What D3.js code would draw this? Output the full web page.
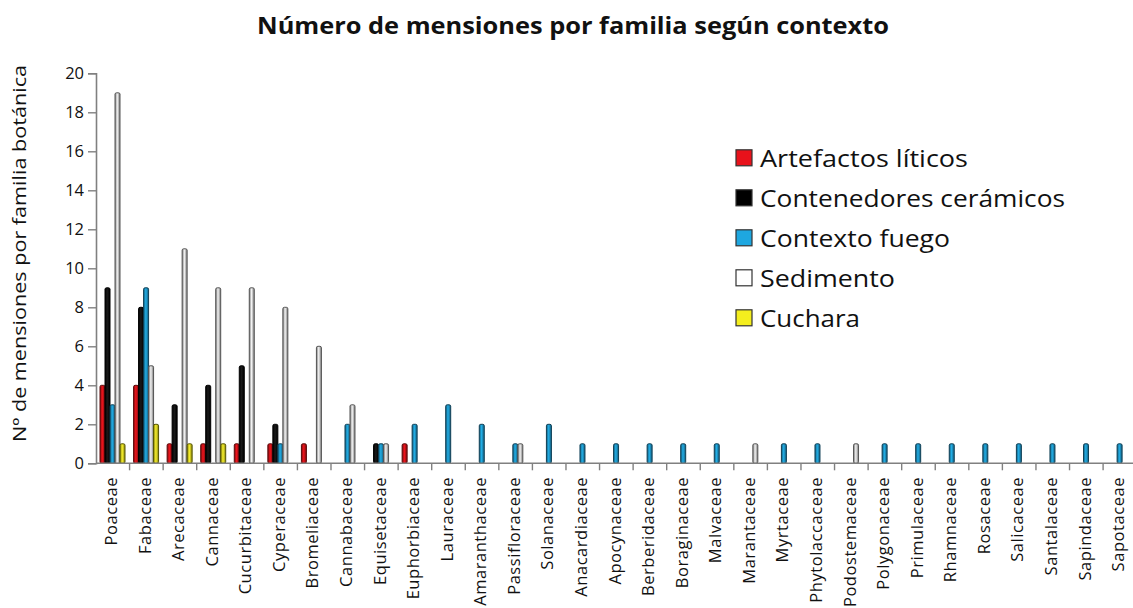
<!DOCTYPE html>
<html>
<head>
<meta charset="utf-8">
<script src="https://cdn.jsdelivr.net/npm/d3@7"></script>
<style>
  html, body { margin: 0; padding: 0; background: #fff; }
  svg { display: block; }
  text { font-family: "Open Sans", "DejaVu Sans", sans-serif; fill: #111; }
</style>
</head>
<body>
<svg id="chart" width="1133" height="608"></svg>
<script>
const categories = ["Poaceae","Fabaceae","Arecaceae","Cannaceae","Cucurbitaceae","Cyperaceae","Bromeliaceae","Cannabaceae","Equisetaceae","Euphorbiaceae","Lauraceae","Amaranthaceae","Passifloraceae","Solanaceae","Anacardiaceae","Apocynaceae","Berberidaceae","Boraginaceae","Malvaceae","Marantaceae","Myrtaceae","Phytolaccaceae","Podostemaceae","Polygonaceae","Primulaceae","Rhamnaceae","Rosaceae","Salicaceae","Santalaceae","Sapindaceae","Sapotaceae"];

const seriesNames = ["Artefactos líticos","Contenedores cerámicos","Contexto fuego","Sedimento","Cuchara"];

const artefactos   = [4,4,1,1,1,1,1,0,0,1,0,0,0,0,0,0,0,0,0,0,0,0,0,0,0,0,0,0,0,0,0];
const contenedores = [9,8,3,4,5,2,0,0,1,0,0,0,0,0,0,0,0,0,0,0,0,0,0,0,0,0,0,0,0,0,0];
const fuego        = [3,9,0,0,0,1,0,2,1,2,3,2,1,2,1,1,1,1,1,0,1,1,0,1,1,1,1,1,1,1,1];
const sedimento    = [19,5,11,9,9,8,6,3,1,0,0,0,1,0,0,0,0,0,0,1,0,0,1,0,0,0,0,0,0,0,0];
const cuchara      = [1,2,1,1,0,0,0,0,0,0,0,0,0,0,0,0,0,0,0,0,0,0,0,0,0,0,0,0,0,0,0];

const yTicks = [0,2,4,6,8,10,12,14,16,18,20];

const title = "Número de mensiones por familia según contexto";
const yTitle = "Nº de mensiones por familia botánica";

const seriesValues = [artefactos, contenedores, fuego, sedimento, cuchara];
const colors = [
  {edge:"#7a0c10", mid:"#f0141c", legend:"#e8121b", stroke:"#5a0a0a"},
  {edge:"#000000", mid:"#1a1a1a", legend:"#000000", stroke:"#000000"},
  {edge:"#135d7d", mid:"#22aee6", legend:"#1ea7e0", stroke:"#0f3f55"},
  {edge:"#777777", mid:"#f4f4f4", legend:"#ffffff", stroke:"#555555"},
  {edge:"#8a8414", mid:"#f7f02a", legend:"#f4ee1e", stroke:"#555500"}
];
const legendWidths = [208, 305, 190, 135, 100];

const svg = d3.select("#chart");
const defs = svg.append("defs");
colors.forEach((c, i) => {
  const g = defs.append("linearGradient").attr("id", "g" + i)
    .attr("x1", "0%").attr("x2", "100%").attr("y1", "0%").attr("y2", "0%");
  g.append("stop").attr("offset", "0%").attr("stop-color", c.edge);
  g.append("stop").attr("offset", "45%").attr("stop-color", c.mid);
  g.append("stop").attr("offset", "100%").attr("stop-color", c.edge);
});

const x0 = 96, catStep = 33.57;
const x = d3.scaleBand().domain(categories).range([x0, x0 + catStep * categories.length]).padding(0);
const xs = d3.scaleBand().domain(d3.range(seriesNames.length)).range([4, 29]).padding(0);
const y = d3.scaleLinear().domain([0, 20]).range([463.3, 73.3]);

// title
svg.append("text").attr("x", 573).attr("y", 34).attr("text-anchor", "middle")
  .attr("font-size", 22.5).attr("font-weight", "bold")
  .attr("textLength", 632).attr("lengthAdjust", "spacingAndGlyphs")
  .text(title);

// y axis title
svg.append("text").attr("transform", "translate(26,253.5) rotate(-90)")
  .attr("text-anchor", "middle").attr("font-size", 18.5)
  .attr("textLength", 377).attr("lengthAdjust", "spacingAndGlyphs")
  .text(yTitle);

// bars
const barsG = svg.append("g");
seriesValues.forEach((vals, si) => {
  barsG.selectAll(null).data(categories.map((c, i) => ({c, v: vals[i]})).filter(d => d.v > 0))
    .join("rect")
    .attr("x", d => x(d.c) + xs(si))
    .attr("y", d => y(d.v))
    .attr("width", xs.bandwidth())
    .attr("height", d => y(0) - y(d.v))
    .attr("rx", 1.5)
    .attr("fill", "url(#g" + si + ")")
    .attr("stroke", colors[si].stroke)
    .attr("stroke-width", 1);
});

// y axis
const yAxis = d3.axisLeft(y).tickValues(yTicks).tickSize(8).tickPadding(4).tickFormat(d3.format("d"));
const gy = svg.append("g").attr("transform", `translate(${x0},0)`).call(yAxis);
gy.select(".domain").attr("stroke", "#808080").attr("stroke-width", 1.6);
gy.selectAll(".tick line").attr("stroke", "#808080").attr("stroke-width", 1.4);
gy.selectAll(".tick text").attr("font-size", 16.5).attr("fill", "#222")
  .attr("font-family", "'Open Sans', sans-serif");

// x axis: line + boundary ticks
const gx = svg.append("g");
gx.append("line").attr("x1", x0).attr("x2", x0 + catStep * categories.length)
  .attr("y1", y(0)).attr("y2", y(0)).attr("stroke", "#808080").attr("stroke-width", 1.6);
gx.selectAll("line.tk").data(categories).join("line").attr("class", "tk")
  .attr("x1", d => x(d) + x.bandwidth()).attr("x2", d => x(d) + x.bandwidth())
  .attr("y1", y(0)).attr("y2", y(0) + 7)
  .attr("stroke", "#808080").attr("stroke-width", 1.4);
gx.selectAll("text").data(categories).join("text")
  .attr("transform", d => `translate(${x(d) + x.bandwidth() / 2 - 1.5},477) rotate(-90)`)
  .attr("text-anchor", "end").attr("dy", "0.35em")
  .attr("font-size", 16.5).attr("letter-spacing", 0.55).attr("fill", "#222")
  .text(d => d);

// legend
const lg = svg.append("g");
seriesNames.forEach((n, i) => {
  const cy = 158.3 + i * 40;
  lg.append("rect").attr("x", 736).attr("y", cy - 8.5).attr("width", 16).attr("height", 16)
    .attr("fill", colors[i].legend).attr("stroke", "#333").attr("stroke-width", 1.2);
  lg.append("text").attr("x", 760).attr("y", cy + 8.5).attr("font-size", 24)
    .attr("textLength", legendWidths[i]).attr("lengthAdjust", "spacingAndGlyphs")
    .text(n);
});
</script>
</body>
</html>
